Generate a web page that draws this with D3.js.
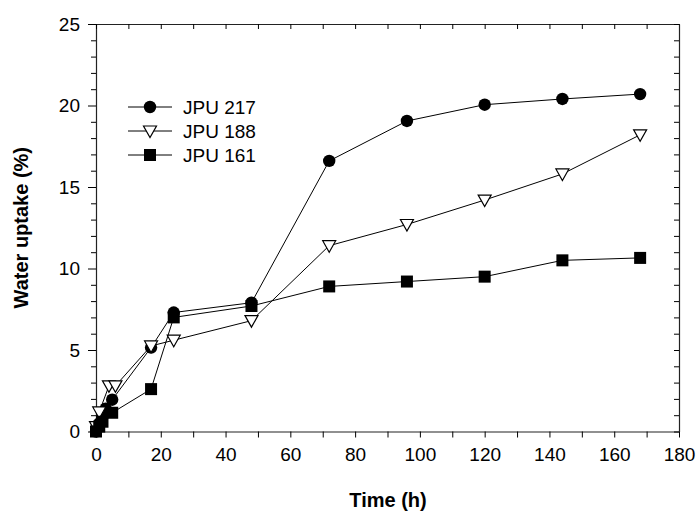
<!DOCTYPE html>
<html>
<head>
<meta charset="utf-8">
<script src="https://cdn.jsdelivr.net/npm/d3@7"></script>
<style>
  body { margin: 0; background: #fff; }
  svg { display: block; font-family: "Liberation Sans", Arial, sans-serif; }
</style>
</head>
<body>
<div id="chart-area"></div>
<script>
// data
var seriesNames = ["JPU 217", "JPU 188", "JPU 161"];
var time217 = [0, 1, 2, 3, 5, 17, 24, 48, 72, 96, 120, 144, 168];
var val217  = [0, 0.5, 0.9, 1.4, 1.95, 5.15, 7.3, 7.9, 16.6, 19.05, 20.05, 20.4, 20.7];
var time188 = [0, 1, 4, 6, 17, 24, 48, 72, 96, 120, 144, 168];
var val188  = [0.3, 1.2, 2.8, 2.8, 5.25, 5.6, 6.8, 11.4, 12.7, 14.2, 15.8, 18.2];
var time161 = [0, 1, 2, 5, 17, 24, 48, 72, 96, 120, 144, 168];
var val161  = [0, 0.3, 0.6, 1.15, 2.6, 7.0, 7.7, 8.9, 9.2, 9.5, 10.5, 10.65];
var xTicks = [0, 20, 40, 60, 80, 100, 120, 140, 160, 180];
var yTicks = [0, 5, 10, 15, 20, 25];

var width = 699, height = 513;
var margin = { left: 96, right: 679, top: 24, bottom: 431.5 };

var svg = d3.select("#chart-area").append("svg")
    .attr("width", width)
    .attr("height", height);

var x = d3.scaleLinear().domain([0, 180]).range([margin.left, margin.right]);
var y = d3.scaleLinear().domain([0, 25]).range([margin.bottom, margin.top]);

var minorX = d3.range(0, 181, 10);
var minorY = d3.range(0, 26, 1);

function styleAxis(g) {
    g.selectAll(".domain").attr("stroke", "#222").attr("stroke-width", 1.2);
    g.selectAll(".tick line").attr("stroke", "#000");
    g.selectAll(".tick text").attr("fill", "#000").style("font-size", "19px")
        .style("font-family", "'Liberation Sans', Arial, sans-serif");
}

// bottom axis
svg.append("g")
    .attr("transform", "translate(0," + margin.bottom + ")")
    .call(d3.axisBottom(x).tickValues(minorX).tickSize(6).tickSizeOuter(0)
        .tickFormat((d) => xTicks.indexOf(d) >= 0 ? d : "").tickPadding(10))
    .call(styleAxis);

// left axis
svg.append("g")
    .attr("transform", "translate(" + margin.left + ",0)")
    .call(d3.axisLeft(y).tickValues(minorY).tickSizeOuter(0)
        .tickSize(5).tickFormat((d) => yTicks.indexOf(d) >= 0 ? d : "").tickPadding(11))
    .call(styleAxis)
    .selectAll(".tick line")
    .attr("x2", (d) => yTicks.indexOf(d) >= 0 ? -8 : -5);

// top axis, ticks inward
svg.append("g")
    .attr("transform", "translate(0," + margin.top + ")")
    .call(d3.axisBottom(x).tickValues(minorX).tickSize(5).tickSizeOuter(0).tickFormat(""))
    .call(styleAxis);

// right axis, ticks inward
svg.append("g")
    .attr("transform", "translate(" + margin.right + ",0)")
    .call(d3.axisLeft(y).tickValues(minorY).tickSize(5).tickSizeOuter(0).tickFormat(""))
    .call(styleAxis);

// axis titles
svg.append("text")
    .attr("x", 388)
    .attr("y", 507)
    .attr("text-anchor", "middle")
    .style("font-size", "20px")
    .style("font-weight", "bold")
    .text("Time (h)");

svg.append("text")
    .attr("transform", "translate(28," + ((margin.top + margin.bottom) / 2) + ") rotate(-90)")
    .attr("text-anchor", "middle")
    .style("font-size", "20px")
    .style("font-weight", "bold")
    .text("Water uptake (%)");

var series = [
    { name: seriesNames[0], t: time217, v: val217, shape: "circle" },
    { name: seriesNames[1], t: time188, v: val188, shape: "triangle" },
    { name: seriesNames[2], t: time161, v: val161, shape: "square" }
];

var line = d3.line().x((d) => x(d[0])).y((d) => y(d[1]));

function drawMarker(g, shape, cx, cy) {
    if (shape === "circle") {
        g.append("circle").attr("cx", cx).attr("cy", cy).attr("r", 6.2)
            .attr("fill", "#000");
    } else if (shape === "square") {
        g.append("rect").attr("x", cx - 6).attr("y", cy - 6)
            .attr("width", 12).attr("height", 12).attr("fill", "#000");
    } else {
        g.append("path")
            .attr("d", "M" + (cx - 6.5) + "," + (cy - 5) + "L" + (cx + 6.5) + "," + (cy - 5) +
                "L" + cx + "," + (cy + 6.5) + "Z")
            .attr("fill", "#fff").attr("stroke", "#000").attr("stroke-width", 1.2);
    }
}

series.forEach((s) => {
    var pts = s.t.map((t, i) => [t, s.v[i]]);
    svg.append("path")
        .datum(pts)
        .attr("d", line)
        .attr("fill", "none")
        .attr("stroke", "#000")
        .attr("stroke-width", 1);
});

series.forEach((s) => {
    var g = svg.append("g");
    s.t.forEach((t, i) => drawMarker(g, s.shape, x(t), y(s.v[i])));
});

// legend
var legendY = [107, 131, 155];
series.forEach((s, i) => {
    var g = svg.append("g");
    g.append("line").attr("x1", 128).attr("x2", 172)
        .attr("y1", legendY[i]).attr("y2", legendY[i])
        .attr("stroke", "#000").attr("stroke-width", 1);
    drawMarker(g, s.shape, 150, legendY[i]);
    g.append("text").attr("x", 183).attr("y", legendY[i] + 7)
        .style("font-size", "19px")
        .text(s.name);
});
</script>
</body>
</html>
